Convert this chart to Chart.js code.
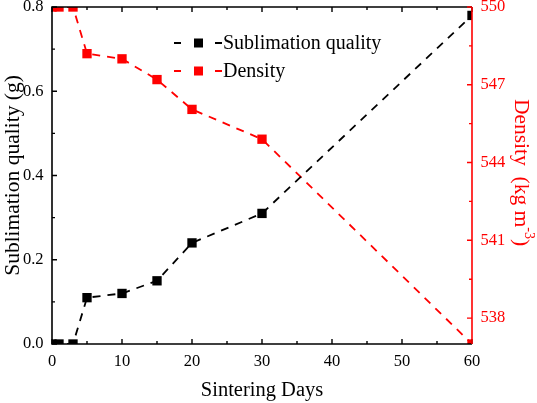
<!DOCTYPE html>
<html>
<head>
<meta charset="utf-8">
<script src="https://cdn.jsdelivr.net/npm/chart.js@4/dist/chart.umd.min.js"></script>
<style>
  html, body { margin: 0; padding: 0; background: #fff; }
</style>
</head>
<body>
<canvas id="chart" width="537" height="403"></canvas>
<script>
// Sintering data
const days = [0, 1, 3, 5, 10, 15, 20, 30, 60];
const quality = [0, 0, 0, 0.11, 0.12, 0.15, 0.24, 0.31, 0.78];
const density = [550, 550, 550, 548.2, 548.0, 547.2, 546.05, 544.9, 537];

const xTicks = [0, 10, 20, 30, 40, 50, 60];
const qualityTicks = [0, 0.2, 0.4, 0.6, 0.8];
const densityTicks = [538, 541, 544, 547, 550];

const serif = "'Liberation Serif', 'Times New Roman', serif";
const RED = '#ff0000';

function toPoints(xs, ys) {
    return xs.map((d, i) => ({ x: d, y: ys[i] }));
}

function minors(major) {
    const out = [];
    for (let i = 0; i < major.length - 1; i++) out.push((major[i] + major[i + 1]) / 2);
    return out;
}

// Frame, inward ticks, right title and in-plot legend
const framePlugin = {
    id: 'frame',
    afterDraw(chart) {
        const { ctx, chartArea: a, scales } = chart;
        const x = scales.x, y = scales.y, y1 = scales.y1;
        ctx.save();
        ctx.lineWidth = 1.6;
        ctx.lineCap = 'butt';

        // black part of the frame
        ctx.strokeStyle = '#000';
        ctx.beginPath();
        ctx.moveTo(a.right, a.top);
        ctx.lineTo(a.left, a.top);
        ctx.lineTo(a.left, a.bottom);
        ctx.lineTo(a.right, a.bottom);
        ctx.stroke();

        ctx.lineWidth = 1.4;
        ctx.beginPath();
        xTicks.forEach(v => {
            const px = x.getPixelForValue(v);
            ctx.moveTo(px, a.bottom); ctx.lineTo(px, a.bottom - 5);
            ctx.moveTo(px, a.top); ctx.lineTo(px, a.top + 5);
        });
        minors(xTicks).forEach(v => {
            const px = x.getPixelForValue(v);
            ctx.moveTo(px, a.bottom); ctx.lineTo(px, a.bottom - 3);
            ctx.moveTo(px, a.top); ctx.lineTo(px, a.top + 3);
        });
        qualityTicks.forEach(v => {
            const py = y.getPixelForValue(v);
            ctx.moveTo(a.left, py); ctx.lineTo(a.left + 5, py);
        });
        minors(qualityTicks).forEach(v => {
            const py = y.getPixelForValue(v);
            ctx.moveTo(a.left, py); ctx.lineTo(a.left + 3, py);
        });
        ctx.stroke();

        // red right axis
        ctx.strokeStyle = RED;
        ctx.lineWidth = 1.6;
        ctx.beginPath();
        ctx.moveTo(a.right, a.top);
        ctx.lineTo(a.right, a.bottom);
        ctx.stroke();
        ctx.lineWidth = 1.4;
        ctx.beginPath();
        densityTicks.forEach(v => {
            const py = y1.getPixelForValue(v);
            ctx.moveTo(a.right, py); ctx.lineTo(a.right - 5, py);
        });
        minors(densityTicks).forEach(v => {
            const py = y1.getPixelForValue(v);
            ctx.moveTo(a.right, py); ctx.lineTo(a.right - 3, py);
        });
        ctx.stroke();

        // right axis title with superscript
        ctx.fillStyle = RED;
        ctx.textBaseline = 'middle';
        ctx.textAlign = 'left';
        const big = '21.5px ' + serif, small = '14px ' + serif;
        const partA = 'Density  (kg m', partB = '-3', partC = ')';
        ctx.font = big;
        const wA = ctx.measureText(partA).width, wC = ctx.measureText(partC).width;
        ctx.font = small;
        const wB = ctx.measureText(partB).width;
        const total = wA + wB + wC;
        ctx.translate(521, (a.top + a.bottom) / 2 - 3);
        ctx.rotate(Math.PI / 2);
        let cx = -total / 2;
        ctx.font = big;
        ctx.fillText(partA, cx, 0);
        cx += wA;
        ctx.font = small;
        ctx.fillText(partB, cx, -7.5);
        cx += wB;
        ctx.font = big;
        ctx.fillText(partC, cx, 0);
        ctx.restore();

        // legend
        ctx.save();
        const rows = [43, 71];
        chart.data.datasets.forEach((ds, i) => {
            const ly = rows[i];
            ctx.strokeStyle = ds.borderColor;
            ctx.fillStyle = ds.borderColor;
            ctx.lineWidth = 1.8;
            ctx.beginPath();
            ctx.moveTo(174, ly); ctx.lineTo(181, ly);
            ctx.moveTo(215, ly); ctx.lineTo(222, ly);
            ctx.stroke();
            ctx.fillRect(198.5 - 4.5, ly - 4.5, 9, 9);
            ctx.fillStyle = '#000';
            ctx.font = '20px ' + serif;
            ctx.textBaseline = 'middle';
            ctx.fillText(ds.label, 223, ly + 1);
        });
        ctx.restore();
    }
};

const ctx = document.getElementById('chart').getContext('2d');
new Chart(ctx, {
    type: 'line',
    data: {
        datasets: [{
            label: 'Sublimation quality',
            data: toPoints(days, quality),
            yAxisID: 'y',
            borderColor: '#000',
            backgroundColor: '#000',
            borderWidth: 1.8,
            borderDash: [8, 7],
            pointStyle: 'rect',
            pointRadius: 6.6,
            pointBorderWidth: 0,
            clip: 0
        }, {
            label: 'Density',
            data: toPoints(days, density),
            yAxisID: 'y1',
            borderColor: RED,
            backgroundColor: RED,
            borderWidth: 1.8,
            borderDash: [8, 7],
            pointStyle: 'rect',
            pointRadius: 6.6,
            pointBorderWidth: 0,
            clip: 0
        }]
    },
    options: {
        responsive: false,
        animation: false,
        layout: { padding: { top: 7, left: 0, right: 0, bottom: 0 } },
        plugins: {
            legend: { display: false },
            tooltip: { enabled: false }
        },
        scales: {
            x: {
                type: 'linear',
                min: 0,
                max: 60,
                afterBuildTicks: s => { s.ticks = xTicks.map(v => ({ value: v })); },
                afterFit: s => { s.height = 59; s.paddingLeft = 0; s.paddingRight = 0; },
                grid: { display: false, drawTicks: false },
                border: { display: false },
                ticks: { font: { family: serif, size: 16.5 }, color: '#000', padding: 8, maxRotation: 0 },
                title: {
                    display: true, text: 'Sintering Days', color: '#000',
                    font: { family: serif, size: 20.5 }, padding: { top: 0, bottom: 0 }
                }
            },
            y: {
                position: 'left',
                min: 0,
                max: 0.8,
                afterBuildTicks: s => { s.ticks = qualityTicks.map(v => ({ value: v })); },
                afterFit: s => { s.width = 52; s.paddingTop = 0; s.paddingBottom = 0; },
                grid: { display: false, drawTicks: false },
                border: { display: false },
                ticks: {
                    font: { family: serif, size: 16.5 }, color: '#000', padding: 8.5,
                    callback: v => v.toFixed(1)
                },
                title: {
                    display: true, text: 'Sublimation quality (g)', color: '#000',
                    font: { family: serif, size: 21.5 }, padding: { top: 0, bottom: 0 }
                }
            },
            y1: {
                position: 'right',
                min: 537,
                max: 550,
                afterBuildTicks: s => { s.ticks = densityTicks.map(v => ({ value: v })); },
                afterFit: s => { s.width = 65; s.paddingTop = 0; s.paddingBottom = 0; },
                grid: { display: false, drawTicks: false },
                border: { display: false },
                ticks: { font: { family: serif, size: 16.5 }, color: RED, padding: 8.5 }
            }
        }
    },
    plugins: [framePlugin]
});
</script>
</body>
</html>
